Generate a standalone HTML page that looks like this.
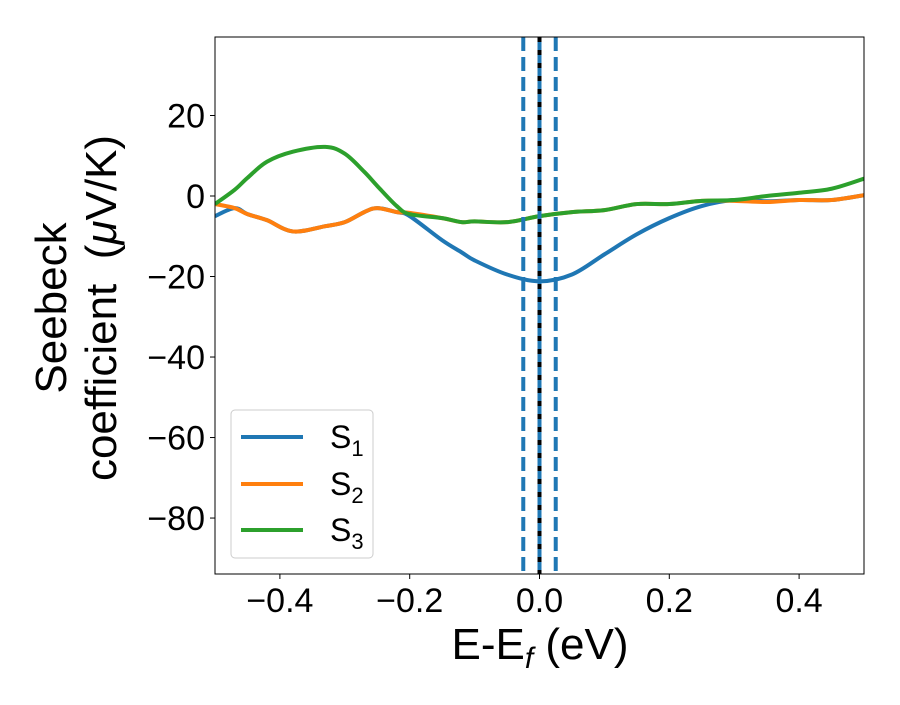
<!DOCTYPE html>
<html><head><meta charset="utf-8"><style>
body{margin:0;background:#fff}
text{font-family:"Liberation Sans","DejaVu Sans",sans-serif;fill:#000}
</style></head><body>
<svg id="chart" width="900" height="700" xmlns="http://www.w3.org/2000/svg"></svg>
<script>
const xs=[-0.5,-0.47,-0.45,-0.42,-0.38,-0.33,-0.3,-0.27,-0.25,-0.22,-0.2,-0.15,-0.12,-0.1,-0.05,0,0.05,0.1,0.15,0.2,0.25,0.3,0.35,0.4,0.45,0.5];
const s1=[-5,-3,-4.5,-6,-8.8,-7.5,-6.5,-4,-3,-4,-5,-11,-14,-16,-19.5,-21.2,-19.5,-14.5,-9.5,-5.5,-2.5,-1,-1.3,-1,-1,0.2];
const s2=[-2,-3,-4.5,-6,-8.8,-7.5,-6.5,-4,-3,-4,-4.2,-5.5,-6.5,-6.3,-6.5,-5,-4,-3.5,-2,-2,-1.2,-1.2,-1.5,-1,-1,0.2];
const s3=[-2,1.5,4.5,8.5,11,12.2,10.5,6,2.5,-2.5,-4.5,-5.5,-6.5,-6.3,-6.5,-5,-4,-3.5,-2,-2,-1.2,-1,0,0.8,1.8,4.3];
const xTicks=[-0.4,-0.2,0.0,0.2,0.4];
const yTicks=[20,0,-20,-40,-60,-80];
const vlines=[-0.025,0.025];
const L=215,R=864,T=37,B=574,xmin=-0.5,xmax=0.5,ymin=-93.9,ymax=39.5;
const X=v=>L+(v-xmin)/(xmax-xmin)*(R-L), Y=v=>T+(ymax-v)/(ymax-ymin)*(B-T);
const svg=document.getElementById('chart');const NS='http://www.w3.org/2000/svg';
function mk(tag,attrs,parent){const e=document.createElementNS(NS,tag);for(const k in attrs)e.setAttribute(k,attrs[k]);(parent||svg).appendChild(e);return e;}
const cp=mk('clipPath',{id:'clip'});mk('rect',{x:L,y:T,width:R-L,height:B-T},cp);
function path(ys){const p=xs.map((x,i)=>[X(x),Y(ys[i])]);let d=`M${p[0][0]},${p[0][1]}`;
for(let i=0;i<p.length-1;i++){const p0=p[i-1]||p[i],p1=p[i],p2=p[i+1],p3=p[i+2]||p2;
d+=` C${p1[0]+(p2[0]-p0[0])/6},${p1[1]+(p2[1]-p0[1])/6} ${p2[0]-(p3[0]-p1[0])/6},${p2[1]-(p3[1]-p1[1])/6} ${p2[0]},${p2[1]}`;}return d;}
const g=mk('g',{'clip-path':'url(#clip)'});
const cols=['#1f77b4','#ff7f0e','#2ca02c'];
[s1,s2,s3].forEach((s,i)=>{const e=mk('path',{d:path(s),fill:'none',stroke:cols[i],'stroke-width':4,'stroke-linejoin':'round'},g);

});
let bl=mk('line',{x1:X(0),x2:X(0),y1:T,y2:B,stroke:'#000','stroke-width':4,'stroke-dasharray':'8,5'});

let bl2=mk('line',{x1:X(0),x2:X(0),y1:T,y2:B,stroke:'#1f77b4','stroke-width':4,'stroke-dasharray':'8,5','stroke-dashoffset':'8'});

vlines.forEach(v=>{const e=mk('line',{x1:X(v),x2:X(v),y1:T,y2:B,stroke:'#1f77b4','stroke-width':4,'stroke-dasharray':'14,6'});
});
const fr=mk('rect',{x:L,y:T,width:R-L,height:B-T,fill:'none',stroke:'#000','stroke-width':1});

xTicks.forEach(v=>{mk('line',{x1:X(v),x2:X(v),y1:B,y2:B+5,stroke:'#000'});
const t=mk('text',{x:X(v),y:B+38,'font-size':34,'text-anchor':'middle'});t.textContent=(v<0?'\u2212':'')+Math.abs(v).toFixed(1);
});
yTicks.forEach(v=>{mk('line',{x1:L-5,x2:L,y1:Y(v),y2:Y(v),stroke:'#000'});
const t=mk('text',{x:L-10,y:Y(v)+12,'font-size':34,'text-anchor':'end'});t.textContent=(v<0?'\u2212':'')+Math.abs(v);
});
</script>
<svg style="position:absolute;left:0;top:0" width="900" height="700">
<text x="540" y="659" font-size="44" text-anchor="middle">E-E<tspan font-size="30" dy="9" font-style="italic">f</tspan><tspan dy="-9"> (eV)</tspan></text>
<g transform="translate(66,308) rotate(-90)">
<text x="0" y="0" font-size="44" text-anchor="middle">Seebeck</text>
<text x="0" y="50" font-size="44" text-anchor="middle" xml:space="preserve">coefficient  (<tspan font-style="italic">μ</tspan>V/K)</text>
</g>
<g>
<rect x="231" y="410" width="142" height="148" rx="4" fill="#fff" fill-opacity="0.8" stroke="#ccc"/>
<line x1="241" x2="303" y1="437" y2="437" stroke="#1f77b4" stroke-width="4"/>
<text x="330" y="448" font-size="32">S<tspan font-size="22" dy="8">1</tspan></text>
<line x1="241" x2="303" y1="484" y2="484" stroke="#ff7f0e" stroke-width="4"/>
<text x="330" y="495" font-size="32">S<tspan font-size="22" dy="8">2</tspan></text>
<line x1="241" x2="303" y1="530" y2="530" stroke="#2ca02c" stroke-width="4"/>
<text x="330" y="541" font-size="32">S<tspan font-size="22" dy="8">3</tspan></text>
</g>
</svg>
</body></html>
